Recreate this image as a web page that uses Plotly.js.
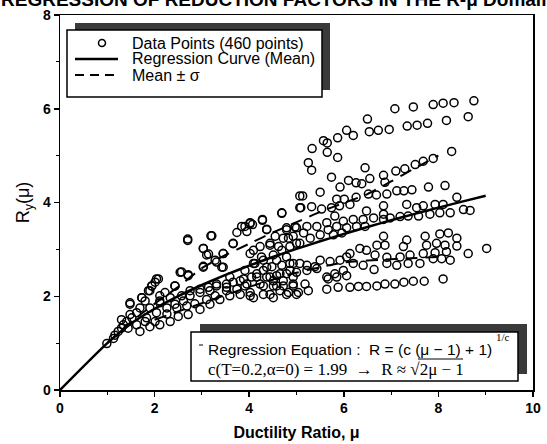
<!DOCTYPE html>
<html>
<head>
<meta charset="utf-8">
<script src="https://cdn.plot.ly/plotly-3.0.1.min.js"></script>
<style>html,body{margin:0;padding:0;background:#fff;}#chart{width:547px;height:444px;}</style>
</head>
<body>
<div id="chart"></div>
<script>
// ---- Data ----
// top rows of the cloud
const xTop = [7.08,7.47,7.89,8.10,8.33,8.75,6.50,6.06,6.20,6.54,6.73,6.96,7.34,7.55,7.77,8.17,8.63,5.87,5.57,5.65,5.33,5.65,5.87,5.25,5.32,5.74,6.45];
const yTop = [6.00,6.04,6.09,6.12,6.13,6.17,5.78,5.54,5.43,5.51,5.54,5.56,5.63,5.65,5.69,5.75,5.83,5.38,5.32,5.27,5.15,5.07,4.96,4.85,4.69,4.54,4.74];
// upper-middle band
const xUpMid = [5.92,6.10,6.26,6.38,6.55,6.84,6.87,7.10,7.29,7.51,7.68,7.89,8.28,7.12,7.27,7.44,7.79,8.14,5.85,6.01,6.26,6.52,6.69,6.91,5.50,5.13,5.09,5.32,4.69,4.28,4.02,4.37,5.53,5.74,5.91,6.13];
const yUpMid = [4.33,4.47,4.42,4.40,4.51,4.58,4.43,4.67,4.72,4.81,4.88,4.94,5.09,4.25,4.25,4.27,4.33,4.36,4.07,4.07,4.11,4.18,4.16,4.18,4.22,4.14,3.89,3.91,3.77,3.64,3.55,3.43,3.86,3.89,3.93,3.96];
// middle band (around the mean curve)
const xMid = [6.48,6.84,7.33,7.54,7.68,7.93,8.10,8.39,8.53,8.67,8.25,8.03,7.82,7.58,7.36,7.19,6.98,6.84,6.84,6.63,6.41,6.20,5.99,5.81,5.64,5.43,5.22,5.00,4.79,5.15,4.93,4.72,4.55,4.44,4.23,4.02,5.85,6.06,6.27,6.45,5.67,5.50,5.29,5.07,4.86,4.69,4.51,4.30,4.12,5.96,5.78];
const yMid = [3.82,3.93,3.96,3.89,3.93,3.96,3.96,4.11,3.85,3.83,3.78,3.78,3.75,3.71,3.71,3.70,3.67,3.75,3.64,3.67,3.64,3.64,3.60,3.71,3.57,3.49,3.49,3.46,3.42,3.35,3.28,3.24,3.28,3.13,3.06,2.91,3.49,3.46,3.49,3.49,3.42,3.31,3.24,3.13,3.06,2.98,2.88,2.77,2.70,3.35,3.31];
// lower band
const xLow = [6.84,6.87,7.33,7.26,7.72,8.03,8.21,8.39,8.39,7.75,7.96,8.14,8.17,7.93,7.68,7.40,7.19,6.91,6.70,6.66,6.34,6.48,6.13,6.06,5.92,5.71,5.50,5.39,5.22,5.07,4.86,4.69,4.48,4.30,4.16,6.91,7.12,7.36,7.61,7.89,8.07,8.25,8.63,9.02,6.64,6.41,6.20,5.99,5.81,5.64,4.93,4.72,4.51];
const yLow = [3.28,3.09,3.20,3.06,3.28,3.33,3.35,3.24,3.07,3.09,3.13,3.09,2.95,2.93,2.91,2.88,2.84,2.83,3.09,2.88,3.02,2.98,2.91,2.84,2.77,2.74,2.77,2.63,2.66,2.70,2.70,2.66,2.63,2.55,2.41,2.70,2.66,2.70,2.70,2.80,2.80,2.77,2.91,3.02,2.57,2.66,2.70,2.55,2.48,2.41,2.41,2.33,2.33];
// bottom row
const xBot = [5.64,5.88,6.13,6.31,6.48,6.70,6.87,7.08,7.27,7.47,7.70,8.10,5.67,5.85,6.06,5.25,5.04,4.83,4.65,4.44,5.18,4.93,4.72,4.51,4.30,4.09,4.37,4.58,4.79,5.00,5.22,5.43];
const yBot = [2.15,2.19,2.19,2.21,2.21,2.22,2.26,2.26,2.30,2.32,2.32,2.37,2.37,2.41,2.44,2.12,2.08,2.08,2.12,2.04,2.26,2.22,2.22,2.22,2.22,1.97,2.41,2.44,2.48,2.51,2.55,2.59];
// small ductility, upper side
const xLeftUp = [2.70,3.21,3.03,3.14,3.45,3.66,3.84,3.95,4.07,3.31,3.45,3.03,2.57,2.71,2.43,2.08,2.01,1.94,1.87,1.73,1.48,2.22,2.11,1.48,1.34,1.30,1.16,1.13,0.99];
const yLeftUp = [3.19,3.29,3.02,2.90,2.91,3.12,3.49,3.38,3.53,2.73,2.62,2.64,2.52,2.46,2.22,2.37,2.30,2.22,2.12,1.97,1.83,2.08,2.01,1.61,1.39,1.32,1.17,1.10,0.99];
// small ductility, along the curve
const xLeftMid = [1.80,1.90,2.11,2.26,2.43,2.61,2.75,2.96,3.14,3.31,3.52,3.66,3.88,4.05,4.16];
const yLeftMid = [1.90,1.75,1.86,1.75,1.83,1.90,2.01,2.08,2.19,2.22,2.26,2.30,2.37,2.41,2.48];
// small ductility, lower side
const xLeftLow = [1.69,1.90,2.11,2.33,2.50,2.71,2.96,3.17,3.38,3.59,3.81,4.02,1.62,1.83,2.04,2.26,2.47,2.68,2.85,3.10,3.28,3.52,3.74,3.91,1.80,2.01,1.44,1.23,1.30,1.41,1.52,1.62,1.69];
const yLeftLow = [1.25,1.35,1.39,1.46,1.57,1.61,1.72,1.83,1.93,2.01,2.04,2.08,1.39,1.54,1.65,1.62,1.75,1.79,1.84,1.93,2.01,2.12,2.15,2.22,1.46,1.46,1.32,1.25,1.50,1.46,1.54,1.65,1.75];
// middle ductility
const xCen = [5.07,5.07,4.69,4.28,4.02,3.91,3.74,4.37,4.79,4.97,3.19,2.70,3.03,3.10,3.28,3.45,3.66,4.09,4.26,4.44,4.62,4.83,5.00,3.42,3.03,2.54,2.71,2.43,2.04,1.94,1.90,1.73,1.48];
const yCen = [4.14,3.89,3.78,3.62,3.57,3.49,3.36,3.42,3.46,3.48,3.29,3.22,3.02,2.88,2.77,2.91,3.13,2.98,2.84,3.09,3.06,3.24,3.13,2.62,2.62,2.51,2.44,2.22,2.37,2.22,2.12,1.97,1.86];
const xCenLow = [4.09,4.37,4.58,4.79,4.93,3.91,3.59,3.81,3.31,3.52,3.17,2.96,2.75,2.57,2.33,2.11,3.95,4.23,4.44,4.65,4.86,4.58,4.93,5.00,4.79,4.51,4.30,4.02];
const yCenLow = [2.70,2.62,2.77,2.84,2.70,2.55,2.41,2.33,2.26,2.19,2.12,2.15,2.12,2.01,1.97,1.90,2.26,2.26,2.41,2.48,2.55,2.22,2.26,2.04,2.04,1.97,2.04,2.01];

// regression curve (mean)
const meanX = [0,1,1.5,2,2.5,3,3.5,4,4.5,5,5.5,6,6.5,7,7.5,8,8.5,9];
const meanY = [0,1,1.415,1.734,2.003,2.240,2.455,2.653,2.837,3.010,3.173,3.329,3.478,3.620,3.758,3.890,4.018,4.143];
// mean + sigma
const upX = [1,1.5,2,2.5,3,3.5,4,4.5,5,5.5,6,6.5,7,7.5,8];
const upY = [1,1.45,1.84,2.20,2.60,2.88,3.12,3.36,3.58,3.80,3.99,4.18,4.45,4.73,5.0];
// mean - sigma
const loX = [2,3,4,5,6,7,8];
const loY = [1.50,1.85,2.20,2.50,2.72,2.79,2.84];

const xTicks = [0,2,4,6,8,10];
const yTicks = [0,2,4,6,8];

const ptsX = [].concat(xTop,xUpMid,xMid,xLow,xBot,xLeftUp,xLeftMid,xLeftLow,xCen,xCenLow);
const ptsY = [].concat(yTop,yUpMid,yMid,yLow,yBot,yLeftUp,yLeftMid,yLeftLow,yCen,yCenLow);

// ---- layout helpers (pixel -> paper) ----
const L = 60, R = 533, T = 15, B = 390;
const px = v => (v - L) / (R - L);
const py = v => (B - v) / (B - T);

const traces = [
  {x: ptsX, y: ptsY, type: 'scatter', mode: 'markers', name: 'Data Points',
   marker: {symbol: 'circle-open', size: 8, color: '#000', line: {width: 1.5, color: '#000'}}},
  {x: meanX, y: meanY, type: 'scatter', mode: 'lines', line: {color: '#000', width: 2.5, shape: 'spline', smoothing: 0.6}},
  {x: upX, y: upY, type: 'scatter', mode: 'lines', line: {color: '#000', width: 2, dash: '12px,8px', shape: 'spline', smoothing: 0.6}},
  {x: loX, y: loY, type: 'scatter', mode: 'lines', line: {color: '#000', width: 2, dash: '12px,8px', shape: 'spline', smoothing: 0.6}}
];

const shapes = [
  // legend shadow + box
  {type: 'rect', xref: 'paper', yref: 'paper', x0: px(75), x1: px(330), y0: py(90), y1: py(23), fillcolor: '#3a3a3a', line: {width: 0}},
  {type: 'rect', xref: 'paper', yref: 'paper', x0: px(67), x1: px(322), y0: py(97), y1: py(30), fillcolor: '#fff', line: {width: 1.5, color: '#000'}},
  {type: 'circle', xref: 'paper', yref: 'paper', x0: px(98.5), x1: px(105.5), y0: py(46.5), y1: py(39.5), line: {width: 1.5, color: '#000'}},
  {type: 'line', xref: 'paper', yref: 'paper', x0: px(75), x1: px(118), y0: py(59), y1: py(59), line: {width: 2.5, color: '#000'}},
  {type: 'line', xref: 'paper', yref: 'paper', x0: px(75), x1: px(118), y0: py(75), y1: py(75), line: {width: 2, color: '#000', dash: '9px,6px'}},
  // equation shadow + box
  {type: 'rect', xref: 'paper', yref: 'paper', x0: px(200), x1: px(527), y0: py(374), y1: py(324), fillcolor: '#3a3a3a', line: {width: 0}},
  {type: 'rect', xref: 'paper', yref: 'paper', x0: px(191), x1: px(518), y0: py(381), y1: py(332), fillcolor: '#fff', line: {width: 1.5, color: '#000'}},
  {type: 'line', xref: 'paper', yref: 'paper', x0: px(418), x1: px(463), y0: py(359), y1: py(359), line: {width: 1, color: '#000'}},
  {type: 'line', xref: 'paper', yref: 'paper', x0: px(199), x1: px(203), y0: py(345), y1: py(345), line: {width: 1, color: '#000'}}
];

const sans = 'Liberation Sans, Arial, sans-serif';
const serif = 'Liberation Serif, Times New Roman, serif';
const annotations = [
  {xref: 'paper', yref: 'paper', x: px(-1), y: py(0), xanchor: 'left', yanchor: 'middle', showarrow: false,
   text: 'REGRESSION OF REDUCTION FACTORS IN THE R-μ Domain', font: {family: sans, size: 19, weight: 700, color: '#000'}},
  {xref: 'paper', yref: 'paper', x: px(130), y: py(43), xanchor: 'left', yanchor: 'middle', showarrow: false, text: 'Data Points (460 points)', font: {family: sans, size: 16, color: '#000'}},
  {xref: 'paper', yref: 'paper', x: px(130), y: py(59), xanchor: 'left', yanchor: 'middle', showarrow: false, text: 'Regression Curve (Mean)', font: {family: sans, size: 16, color: '#000'}},
  {xref: 'paper', yref: 'paper', x: px(130), y: py(75), xanchor: 'left', yanchor: 'middle', showarrow: false, text: 'Mean ± σ', font: {family: sans, size: 16, color: '#000'}},
  {xref: 'paper', yref: 'paper', x: px(206), y: py(349), xanchor: 'left', yanchor: 'middle', showarrow: false, text: 'Regression Equation :  R = (c (μ − 1) + 1)', font: {family: sans, size: 15.5, color: '#000'}},
  {xref: 'paper', yref: 'paper', x: px(494), y: py(337), xanchor: 'left', yanchor: 'middle', showarrow: false, text: '1/c', font: {family: serif, size: 11, color: '#000'}},
  {xref: 'paper', yref: 'paper', x: px(206), y: py(369), xanchor: 'left', yanchor: 'middle', showarrow: false, text: 'c(T=0.2,α=0) = 1.99  →  R ≈ √2μ − 1', font: {family: serif, size: 17, color: '#000'}}
];

const layout = {
  width: 547, height: 444,
  margin: {l: L, r: 547 - R, t: T, b: 444 - B, pad: 0},
  paper_bgcolor: '#fff', plot_bgcolor: '#fff',
  showlegend: false,
  xaxis: {range: [0, 10], tickvals: xTicks, ticktext: xTicks.map(String), ticks: 'outside', ticklen: 5, tickwidth: 1.5, tickcolor: '#000',
          minor: {dtick: 1, ticks: 'outside', ticklen: 3, tickwidth: 1, tickcolor: '#000'},
          showline: true, mirror: true, linewidth: 1.5, linecolor: '#000', showgrid: false, zeroline: false,
          tickfont: {family: sans, size: 14, weight: 700, color: '#000'},
          title: {text: 'Ductility Ratio, μ', standoff: 11, font: {family: sans, size: 16, weight: 700, color: '#000'}}},
  yaxis: {range: [0, 8], tickvals: yTicks, ticktext: yTicks.map(String), ticks: 'outside', ticklen: 5, tickwidth: 1.5, tickcolor: '#000',
          minor: {dtick: 1, ticks: 'outside', ticklen: 3, tickwidth: 1, tickcolor: '#000'},
          showline: true, mirror: true, linewidth: 1.5, linecolor: '#000', showgrid: false, zeroline: false,
          tickfont: {family: sans, size: 14, weight: 700, color: '#000'},
          title: {text: 'R<sub>y</sub>(μ)', standoff: 8, font: {family: sans, size: 18, color: '#000'}}},
  shapes: shapes,
  annotations: annotations
};

Plotly.newPlot('chart', traces, layout, {staticPlot: true, displayModeBar: false});
</script>
</body>
</html>
